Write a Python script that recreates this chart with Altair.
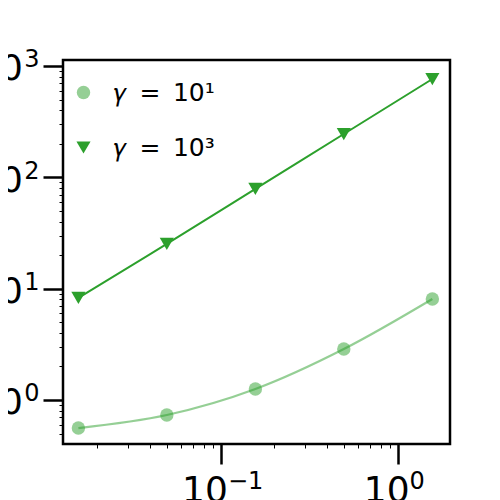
import altair as alt
import pandas as pd

# ---- data ----
x_vals = [0.0157, 0.0496, 0.157, 0.496, 1.57]
y_gamma1 = [0.56, 0.733, 1.255, 2.87, 8.08]
y_gamma3 = [8.25, 25.2, 78.6, 245, 764]
series_names = ["𝛾\u2002=\u200210¹", "𝛾\u2002=\u200210³"]

x_major = [0.1, 1]
x_major_exp = ["−1", "0"]
y_major = [1, 10, 100, 1000]
y_major_exp = ["0", "1", "2", "3"]

x_domain = [0.01285, 1.975]
y_domain = [0.4025, 1132]

x_minor = [k * 10.0 ** e for e in [-2, -1] for k in range(2, 10)]
y_minor = [k * 10.0 ** e for e in [-1, 0, 1, 2] for k in range(2, 10)
           if y_domain[0] <= k * 10.0 ** e <= y_domain[1]]

rows = []
for name, ys in zip(series_names, [y_gamma1, y_gamma3]):
    for xv, yv in zip(x_vals, ys):
        rows.append({"x": xv, "y": yv, "series": name})
df = pd.DataFrame(rows)


def label_expr(vals, labels):
    parts = " : ".join(f"abs(datum.value - {v}) < {v}*1e-6 ? '{l}'" for v, l in zip(vals, labels))
    return parts + " : ''"


GREEN = "#2ca02c"
FONT = "DejaVu Sans"
BASE_SIZE = 36
SUP_SIZE = 24

xscale = alt.Scale(type="log", domain=x_domain, nice=False)
yscale = alt.Scale(type="log", domain=y_domain, nice=False)

minor_axis = dict(labels=False, grid=False, domain=False, tickSize=4,
                  tickWidth=1, tickColor="black", title=None)
x_label_shift = {"condition": {"test": "datum.value > 0.5", "value": 11.4}, "value": 6.7}

# layer A: gamma=10^1 curve, carries the minor ticks
line1 = alt.Chart(df).transform_filter(alt.datum.series == series_names[0]).mark_line(
    interpolate="monotone", strokeWidth=2.2, color=GREEN, strokeOpacity=0.5).encode(
    x=alt.X("x:Q", scale=xscale, axis=alt.Axis(orient="bottom", values=x_minor, **minor_axis)),
    y=alt.Y("y:Q", scale=yscale, axis=alt.Axis(orient="left", values=y_minor, **minor_axis)),
)

# layer B: gamma=10^3 line, carries the major ticks and the "10" base of the labels
line3 = alt.Chart(df).transform_filter(alt.datum.series == series_names[1]).mark_line(
    interpolate="monotone", strokeWidth=2.0, color=GREEN).encode(
    x=alt.X("x:Q", scale=xscale,
            axis=alt.Axis(orient="bottom", values=x_major, labelExpr="'10'",
                          grid=False, domain=False, tickSize=20, tickWidth=2.5, tickColor="black",
                          labelFont=FONT, labelFontSize=BASE_SIZE, labelColor="black",
                          labelAlign="right", labelBaseline="alphabetic", labelPadding=37,
                          labelOffset=x_label_shift,
                          labelFlush=False, labelOverlap=False, title=None)),
    y=alt.Y("y:Q", scale=yscale,
            axis=alt.Axis(orient="left", values=y_major, labelExpr="'10'",
                          grid=False, domain=False, tickSize=20, tickWidth=2.5, tickColor="black",
                          labelFont=FONT, labelFontSize=BASE_SIZE, labelColor="black",
                          labelAlign="right", labelBaseline="alphabetic", labelPadding=20.6,
                          labelOffset=14, labelFlush=False, labelOverlap=False, title=None)),
)

# layer C: markers, carries the exponents of the labels and the legend
points = alt.Chart(df).mark_point(filled=True, strokeWidth=1).encode(
    x=alt.X("x:Q", scale=xscale,
            axis=alt.Axis(orient="bottom", values=x_major, labelExpr=label_expr(x_major, x_major_exp),
                          grid=False, domain=False, ticks=False, tickSize=0,
                          labelFont=FONT, labelFontSize=SUP_SIZE, labelColor="black",
                          labelAlign="left", labelBaseline="alphabetic", labelPadding=44,
                          labelOffset=x_label_shift,
                          labelFlush=False, labelOverlap=False, title=None)),
    y=alt.Y("y:Q", scale=yscale,
            axis=alt.Axis(orient="left", values=y_major, labelExpr=label_expr(y_major, y_major_exp),
                          grid=False, domain=False, ticks=False, tickSize=0,
                          labelFont=FONT, labelFontSize=SUP_SIZE, labelColor="black",
                          labelAlign="right", labelBaseline="alphabetic", labelPadding=24,
                          labelOffset=1, labelFlush=False, labelOverlap=False, title=None)),
    color=alt.Color("series:N", scale=alt.Scale(domain=series_names, range=[GREEN, GREEN]),
                    legend=alt.Legend(title=None, orient="none", legendX=8, legendY=20,
                                      labelFont=FONT, labelFontSize=25, labelColor="black",
                                      symbolSize=180, rowPadding=29, labelOffset=18, padding=0,
                                      labelLimit=300, symbolStrokeWidth=1)),
    shape=alt.Shape("series:N", scale=alt.Scale(domain=series_names, range=["circle", "triangle-down"])),
    opacity=alt.Opacity("series:N", scale=alt.Scale(domain=series_names, range=[0.5, 1.0])),
    size=alt.Size("series:N", scale=alt.Scale(domain=series_names, range=[180, 200]), legend=None),
)

chart = alt.layer(line1, line3, points).resolve_axis(x="independent", y="independent").properties(
    width=387, height=384,
    autosize=alt.AutoSizeParams(type="none"),
    padding={"left": 55, "top": 52, "right": 42, "bottom": 64},
).configure_view(stroke="black", strokeWidth=2.5)

chart.save("out.html", embed_options={"renderer": "svg", "actions": False})
